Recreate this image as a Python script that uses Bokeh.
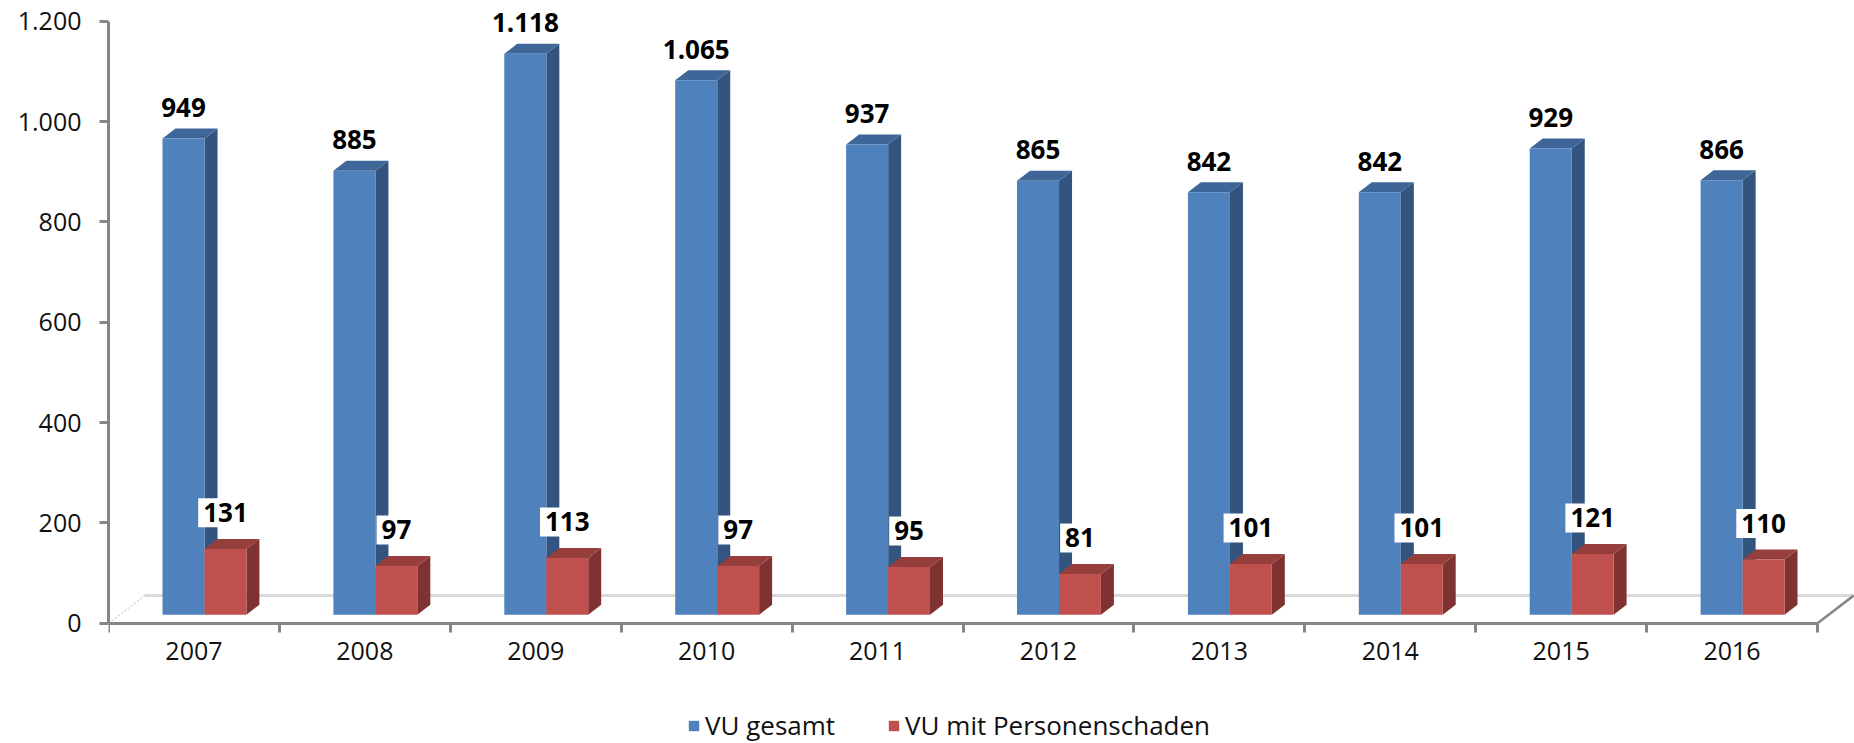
from bokeh.plotting import figure
from bokeh.models import Range1d, FixedTicker, Legend, LegendItem, ColumnDataSource
from bokeh.embed import file_html
from bokeh.resources import INLINE
from bokeh.core.properties import value

# ---- data ----
years = ["2007", "2008", "2009", "2010", "2011", "2012", "2013", "2014", "2015", "2016"]
vu_gesamt = [949, 885, 1118, 1065, 937, 865, 842, 842, 929, 866]
vu_personenschaden = [131, 97, 113, 97, 95, 81, 101, 101, 121, 110]
y_ticks = [0, 200, 400, 600, 800, 1000, 1200]
y_tick_labels = ["0", "200", "400", "600", "800", "1.000", "1.200"]
series_names = ["VU gesamt", "VU mit Personenschaden"]


def de_fmt(v):
    return f"{v:,}".replace(",", ".")


# ---- style constants ----
FONT = "Open Sans"
LIFT = 17      # front face base above floor (value units)
DX = 0.076     # 3D depth offset (category units)
DY = 20        # 3D depth offset (value units)
LABEL_GAP = 23 # label anchor above bar top (value units)
AXIS_COLOR = "#868686"
styles = [
    dict(a=-0.184, b=0.062, front="#4F81BD", top="#3E6699", side="#33547E"),
    dict(a=0.062, b=0.307, front="#C0504D", top="#963E3C", side="#7E3231"),
]

p = figure(width=1854, height=743, x_range=Range1d(0, 10.2165), y_range=Range1d(-239.8, 1241.2),
           output_backend="svg", toolbar_location=None,
           min_border_left=108, min_border_right=0, min_border_top=0, min_border_bottom=0)
p.grid.visible = False
p.outline_line_color = None

centers = [i + 0.5 for i in range(len(years))]

# floor (back edge and side diagonals)
FLOOR_DX = 0.212
FLOOR_DY = 55
p.line([FLOOR_DX, 10 + FLOOR_DX + 0.1], [FLOOR_DY, FLOOR_DY], line_color="#d9d9d9", line_width=3)
p.line([0, FLOOR_DX], [0, FLOOR_DY], line_color="#d4d4d4", line_width=1.5, line_dash="2 2")
p.line([10, 10 + FLOOR_DX], [0, FLOOR_DY], line_color=AXIS_COLOR, line_width=2.5)

front_renderers = []
for vals, st in zip([vu_gesamt, vu_personenschaden], styles):
    left = [c + st["a"] for c in centers]
    right = [c + st["b"] for c in centers]
    top = [v + LIFT for v in vals]
    side_xs = [[r, r + DX, r + DX, r] for r in right]
    side_ys = [[LIFT, LIFT + DY, t + DY, t] for t in top]
    top_xs = [[l, r, r + DX, l + DX] for l, r in zip(left, right)]
    top_ys = [[t, t, t + DY, t + DY] for t in top]
    p.patches(side_xs, side_ys, fill_color=st["side"], line_color=None)
    p.patches(top_xs, top_ys, fill_color=st["top"], line_color=None)
    fr = p.quad(left=left, right=right, bottom=LIFT, top=top, fill_color=st["front"], line_color=None)
    front_renderers.append(fr)

# value labels
blue_src = ColumnDataSource(dict(
    x=[c + (styles[0]["a"] + styles[0]["b"]) / 2 for c in centers],
    y=[v + LIFT + DY + LABEL_GAP for v in vu_gesamt],
    t=[de_fmt(v) for v in vu_gesamt]))
p.text(x="x", y="y", text="t", source=blue_src, text_font=value(FONT), text_font_style="bold",
       text_font_size="26px", text_color="black", text_align="center", text_baseline="bottom")

red_src = ColumnDataSource(dict(
    x=[c + (styles[1]["a"] + styles[1]["b"]) / 2 for c in centers],
    y=[v + LIFT + DY + LABEL_GAP for v in vu_personenschaden],
    t=[de_fmt(v) for v in vu_personenschaden]))
p.text(x="x", y="y", text="t", source=red_src, text_font=value(FONT), text_font_style="bold",
       text_font_size="26px", text_color="black", text_align="center", text_baseline="bottom",
       background_fill_color="white", padding=5)

# axes
ya = p.yaxis[0]
ya.ticker = FixedTicker(ticks=y_ticks)
ya.major_label_overrides = {t: l for t, l in zip(y_ticks, y_tick_labels)}
ya.bounds = (0, 1200)
ya.axis_line_color = AXIS_COLOR
ya.axis_line_width = 3
ya.major_tick_line_color = AXIS_COLOR
ya.major_tick_line_width = 3
ya.major_tick_out = 9
ya.major_tick_in = 0
ya.minor_tick_line_color = None
ya.major_label_standoff = 18
ya.major_label_text_font = FONT
ya.major_label_text_font_size = "25px"
ya.major_label_text_color = "#111111"

xa = p.xaxis[0]
xa.fixed_location = 0
xa.ticker = FixedTicker(ticks=centers, minor_ticks=list(range(len(years) + 1)))
xa.major_label_overrides = {c: y for c, y in zip(centers, years)}
xa.bounds = (0, 10)
xa.axis_line_color = AXIS_COLOR
xa.axis_line_width = 3
xa.major_tick_line_color = None
xa.major_tick_out = 9
xa.major_tick_in = 0
xa.minor_tick_line_color = AXIS_COLOR
xa.minor_tick_line_width = 3
xa.minor_tick_out = 9
xa.minor_tick_in = 0
xa.major_label_standoff = 10
xa.major_label_text_font = FONT
xa.major_label_text_font_size = "25px"
xa.major_label_text_color = "#111111"

legend = Legend(items=[LegendItem(label=n, renderers=[r]) for n, r in zip(series_names, front_renderers)],
                orientation="horizontal", location=(579, 0), margin=0, padding=0,
                glyph_width=13, glyph_height=13, label_standoff=5, spacing=52,
                label_text_font=FONT, label_text_font_size="26px", label_text_color="#111111",
                border_line_color=None, background_fill_alpha=0)
p.add_layout(legend, "center")

open("out.html", "w").write(file_html(p, INLINE))
